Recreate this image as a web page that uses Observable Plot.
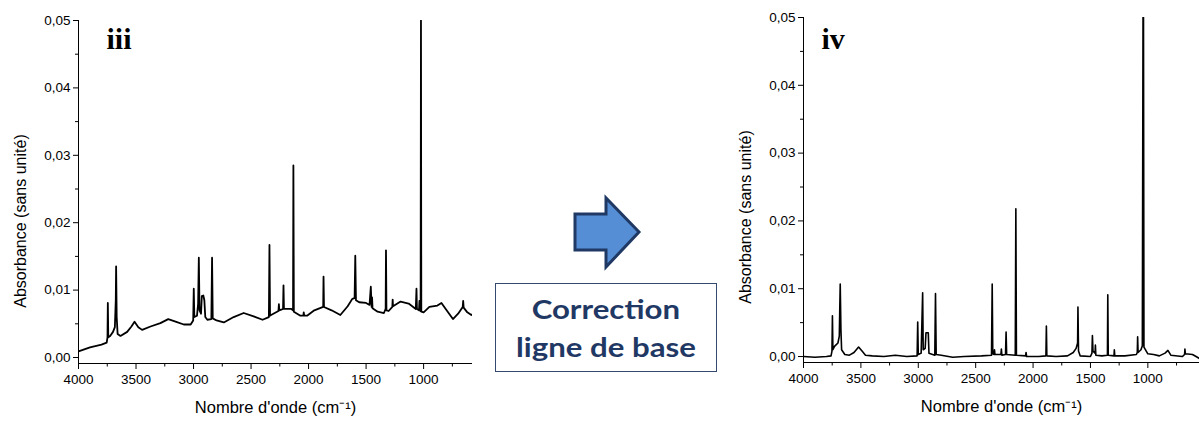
<!DOCTYPE html>
<html><head><meta charset="utf-8">
<script src="https://cdn.jsdelivr.net/npm/d3@7"></script>
<script src="https://cdn.jsdelivr.net/npm/@observablehq/plot@0.6"></script>
<style>
body{margin:0;background:#fff;}
#wrap{position:relative;width:1199px;height:421px;overflow:hidden;font-family:"Liberation Sans",Arial,sans-serif;}
.panel{position:absolute;top:0;}
#box{position:absolute;left:495px;top:283px;width:220px;height:87px;border:1.5px solid #34496d;color:#1f3864;font-family:Lato,"Open Sans",sans-serif;font-weight:700;font-size:26px;text-align:center;line-height:38px;box-sizing:content-box;}
#box span{display:inline-block;transform:scaleX(1.2);}
#deco{position:absolute;left:0;top:0;}
</style></head><body><div id="wrap"></div>
<script>
// ---- Spectrum iii (before baseline correction) ----
const iiiWavenumber = [4000,3900,3800,3755,3748,3745,3741,3725,3700,3684,3676,3673,3668,3660,3635,3577,3540,3513,3480,3447,3374,3288,3220,3150,3085,3025,3003,2998,2993,2970,2960,2954,2948,2935,2928,2915,2906,2898,2880,2845,2839,2833,2800,2737,2651,2564,2477,2400,2345,2340,2335,2326,2262,2258,2254,2222,2218,2214,2150,2135,2132,2128,2071,2045,2042,2038,2013,1950,1873,1870,1866,1800,1724,1660,1620,1600,1594,1588,1560,1500,1470,1459,1452,1448,1444,1400,1345,1330,1327,1323,1304,1272,1269,1266,1200,1130,1068,1062,1058,1040,1036,1032,1026,1023,1020,1000,950,880,845,800,745,700,660,656,652,620,585,575];
const iiiAbsorbance = [0.0009,0.0015,0.0019,0.0022,0.0030,0.0081,0.0030,0.0032,0.0038,0.0045,0.0085,0.0135,0.0060,0.0035,0.0032,0.0038,0.0046,0.0053,0.0045,0.0041,0.0046,0.0051,0.0057,0.0053,0.0049,0.0049,0.0055,0.0102,0.0060,0.0062,0.0080,0.0148,0.0070,0.0065,0.0091,0.0092,0.0085,0.0060,0.0056,0.0057,0.0148,0.0058,0.0055,0.0052,0.0060,0.0066,0.0061,0.0056,0.0060,0.0167,0.0062,0.0063,0.0069,0.0079,0.0070,0.0072,0.0107,0.0072,0.0072,0.0070,0.0285,0.0068,0.0062,0.0062,0.0067,0.0062,0.0062,0.0070,0.0075,0.0120,0.0075,0.0070,0.0063,0.0076,0.0087,0.0088,0.0151,0.0085,0.0082,0.0081,0.0078,0.0105,0.0075,0.0089,0.0073,0.0068,0.0066,0.0072,0.0159,0.0070,0.0069,0.0075,0.0086,0.0076,0.0083,0.0080,0.0072,0.0102,0.0072,0.0070,0.0084,0.0070,0.0069,0.0500,0.0068,0.0067,0.0075,0.0077,0.0081,0.0070,0.0057,0.0065,0.0075,0.0084,0.0074,0.0067,0.0063,0.0064];

// ---- Spectrum iv (after baseline correction) ----
const ivWavenumber = [4000,3900,3800,3760,3752,3748,3744,3730,3700,3688,3684,3680,3674,3668,3640,3600,3560,3520,3490,3460,3400,3300,3200,3100,3010,3005,3000,2975,2962,2957,2940,2933,2913,2907,2856,2850,2844,2800,2700,2600,2450,2362,2356,2351,2340,2336,2332,2280,2276,2272,2240,2235,2230,2155,2150,2145,2065,2061,2056,1950,1888,1884,1880,1800,1700,1650,1625,1612,1609,1604,1590,1500,1487,1483,1478,1460,1457,1453,1400,1352,1349,1345,1295,1292,1288,1200,1100,1092,1089,1085,1060,1048,1042,1038,1034,1000,950,900,850,825,800,700,680,677,673,611,580,550];
const ivAbsorbance = [0.0000,-0.0001,0.0000,0.0001,0.0008,0.0060,0.0010,0.0015,0.0020,0.0030,0.0070,0.0107,0.0040,0.0010,0.0003,0.0002,0.0006,0.0014,0.0008,0.0002,0.0001,0.0000,0.0002,0.0000,0.0001,0.0051,0.0003,0.0005,0.0094,0.0010,0.0012,0.0035,0.0035,0.0005,0.0002,0.0093,0.0003,0.0002,-0.0001,0.0000,0.0001,0.0002,0.0107,0.0004,0.0003,0.0010,0.0003,0.0003,0.0011,0.0002,0.0003,0.0036,0.0003,0.0002,0.0218,0.0002,0.0001,0.0006,0.0000,0.0000,0.0001,0.0045,0.0001,0.0000,0.0001,0.0006,0.0012,0.0020,0.0073,0.0008,0.0001,0.0000,0.0005,0.0031,0.0008,0.0005,0.0017,0.0002,0.0001,0.0002,0.0091,0.0002,0.0001,0.0010,0.0001,0.0001,0.0003,0.0006,0.0029,0.0006,0.0010,0.0016,0.0500,0.0500,0.0014,0.0004,0.0003,0.0001,0.0005,0.0009,0.0002,0.0000,0.0003,0.0011,0.0004,0.0003,0.0000,-0.0003];

// ---- Axes ----
const xMajorTicks = [4000,3500,3000,2500,2000,1500,1000];
const xMinorTicks = [3750,3250,2750,2250,1750,1250,750];
const yMajorTicks = [0,0.01,0.02,0.03,0.04,0.05];
const yMinorTicks = [0.005,0.015,0.025,0.035,0.045];
const xTitle = "Nombre d'onde (cm\u207B\u00B9)";
const yTitle = "Absorbance (sans unité)";
const panelLabels = ["iii","iv"];
const boxLines = ["Correction","ligne de base"];

function makePanel({wn, ab, label, width, marginLeft, marginRight, marginTop, marginBottom, xDomain, yDomain, labelDx, labelDy, yTitleDy, lineWidth}) {
  const data = wn.map((w,i)=>({w, a: ab[i]}));
  return Plot.plot({
    width, height: 421, marginLeft, marginRight, marginTop, marginBottom,
    style: {fontFamily: "'Liberation Sans', Arial, sans-serif", fontSize: "13.5px", color: "#000", background: "transparent", overflow: "visible"},
    x: {domain: xDomain},
    y: {domain: yDomain},
    marks: [
      Plot.axisX({ticks: xMajorTicks, tickSize: 6, tickPadding: 5, tickFormat: d => String(d), label: null, fontSize: 13.5}),
      Plot.axisX({ticks: xMinorTicks, tickSize: 3.5, tickFormat: () => "", label: null}),
      Plot.axisY({ticks: yMajorTicks, tickSize: 5, tickPadding: 3, tickFormat: d => d.toFixed(2).replace(".", ","), label: null, fontSize: 13.5}),
      Plot.axisY({ticks: yMinorTicks, tickSize: 3, tickFormat: () => "", label: null}),
      Plot.ruleX([xDomain[0]], {stroke: "#000"}),
      Plot.ruleY([yDomain[0]], {stroke: "#000"}),
      Plot.line(data, {x: "w", y: "a", stroke: "#000", strokeWidth: lineWidth, clip: true}),
      Plot.text([label], {frameAnchor: "top-left", dx: labelDx, dy: labelDy, fontFamily: "'Liberation Serif', 'Times New Roman', serif", fontWeight: "bold", fontSize: 30, textAnchor: "start", lineAnchor: "top"}),
      Plot.text([xTitle], {frameAnchor: "bottom", dy: 44, fontSize: 16.5, textAnchor: "middle", lineAnchor: "middle"}),
      Plot.text([yTitle], {frameAnchor: "left", dx: -58, dy: yTitleDy, rotate: -90, fontSize: 16, textAnchor: "middle", lineAnchor: "middle"})
    ]
  });
}

const wrap = document.getElementById("wrap");

const p1 = makePanel({wn: iiiWavenumber, ab: iiiAbsorbance, label: panelLabels[0], width: 480, marginLeft: 78, marginRight: 8, marginTop: 20, marginBottom: 58, xDomain: [4000, 575], yDomain: [-0.00089, 0.05], labelDx: 28, labelDy: 7, yTitleDy: 29, lineWidth: 1.8});
p1.classList.add("panel"); p1.style.left = "0px";
wrap.appendChild(p1);

const p2 = makePanel({wn: ivWavenumber, ab: ivAbsorbance, label: panelLabels[1], width: 474, marginLeft: 78, marginRight: 0, marginTop: 17, marginBottom: 59, xDomain: [4000, 550], yDomain: [-0.00088, 0.05], labelDx: 18, labelDy: 10, yTitleDy: 27, lineWidth: 1.6});
p2.classList.add("panel"); p2.style.left = "725px";
wrap.appendChild(p2);

// Arrow decoration
const ns = "http://www.w3.org/2000/svg";
const deco = document.createElementNS(ns, "svg");
deco.setAttribute("id","deco"); deco.setAttribute("width","1199"); deco.setAttribute("height","421");
const poly = document.createElementNS(ns, "polygon");
poly.setAttribute("points","575,214 606,214 606,198 639,232 606,267 606,250 575,250");
poly.setAttribute("fill","#558ed5"); poly.setAttribute("stroke","#1f3864"); poly.setAttribute("stroke-width","3");
deco.appendChild(poly);
wrap.appendChild(deco);

const box = document.createElement("div");
box.id = "box";
box.innerHTML = `<div style="margin-top:6px"><span>${boxLines[0]}</span></div><div><span>${boxLines[1]}</span></div>`;
wrap.appendChild(box);
</script>
</body></html>
